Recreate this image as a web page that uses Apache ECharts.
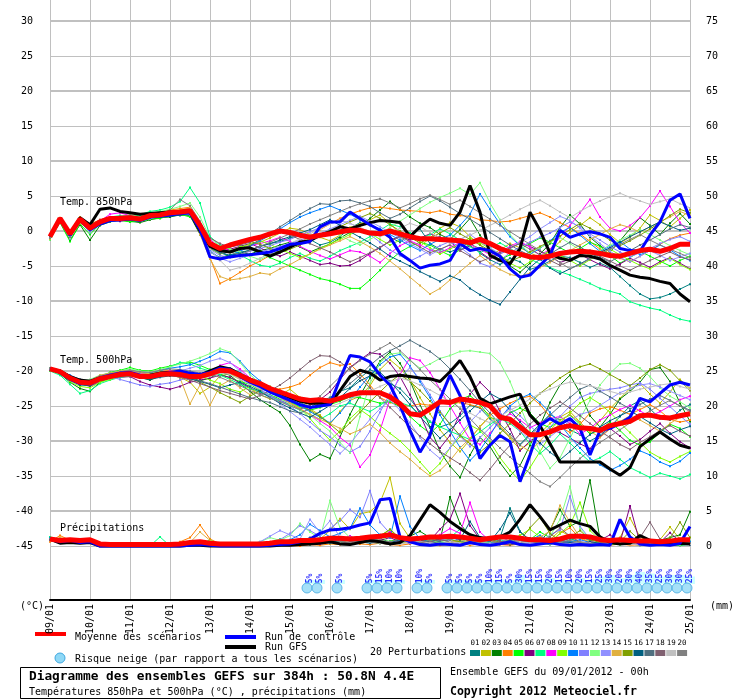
<!DOCTYPE html>
<html><head><meta charset="utf-8">
<script src="https://cdn.jsdelivr.net/npm/echarts/dist/echarts.min.js"></script>
<style>html,body{margin:0;padding:0;background:#fff}#c{width:740px;height:700px}</style>
</head><body><div id="c"></div><script>
const FONT = "'DejaVu Sans Mono', monospace";
const dayLabels = ['09/01','10/01','11/01','12/01','13/01','14/01','15/01','16/01','17/01','18/01','19/01','20/01','21/01','22/01','23/01','24/01','25/01'];
const stepHours = 6, nSteps = 65;
const hours = Array.from({length: nSteps}, (_, i) => String(i * stepHours));

// ---- mean / control / GFS ----
const meanT850 = [-0.8,1.8,-0.4,1.7, 0.4,1.3,1.8,1.8, 1.9,1.7,2.2,2.3, 2.6,2.7,2.9,0.8, -1.8,-2.5,-2.0,-1.6, -1.2,-0.9,-0.4,0.0, -0.2,-0.6,-0.9,-0.6, -0.4,-0.1,0.1,0.1, -0.3,-0.4,0.0,-0.4, -0.8,-1.1,-1.1,-1.2, -1.3,-1.4,-1.7,-1.2, -1.8,-2.5,-3.0,-3.3, -3.7,-3.8,-3.6,-3.2, -3.0,-2.9,-3.0,-3.2, -3.5,-3.6,-3.2,-2.8, -2.6,-2.9,-2.5,-1.9, -1.9];
const ctrlT850 = [-0.8,1.6,-0.6,1.5, 0.2,1.0,1.5,1.6, 1.7,1.5,2.0,2.1, 2.3,2.5,2.6,0.2, -3.7,-4.0,-3.7,-3.5, -3.4,-3.2,-3.0,-2.5, -1.9,-1.8,-1.5,0.6, 1.3,1.3,2.7,1.8, 0.9,0.1,-0.9,-3.2, -4.2,-5.3,-4.9,-4.7, -4.2,-1.8,-2.8,-2.5, -2.8,-3.6,-5.4,-6.6, -6.3,-4.9,-3.5,0.1, -0.9,-0.4,-0.1,-0.4, -0.9,-2.5,-2.8,-2.9, -0.6,1.3,4.4,5.3, 1.8];
const gfsT850 = [-0.8,1.8,-0.5,1.9, 0.9,3.1,3.3,2.8, 2.6,2.4,2.5,2.6, 2.7,2.8,2.6,0.0, -2.2,-2.8,-3.0,-2.5, -2.4,-3.0,-3.6,-3.0, -2.3,-1.6,-1.4,-0.6, -0.1,0.6,0.3,0.8, 1.2,1.5,1.4,1.2, -0.8,0.6,1.7,1.1, 0.8,2.7,6.5,2.7, -3.5,-4.2,-4.7,-2.5, 2.7,0.1,-3.2,-3.9, -4.2,-3.5,-3.6,-4.0, -4.9,-5.6,-6.3,-6.6, -6.8,-7.2,-7.5,-9.0, -10.1];
const meanT500 = [-19.7,-20.1,-21.0,-21.6, -21.7,-21.1,-20.8,-20.5, -20.4,-20.8,-20.8,-20.5, -20.4,-20.5,-20.8,-20.8, -20.4,-19.9,-20.0,-20.6, -21.3,-21.8,-22.5,-23.0, -23.5,-24.0,-24.2,-24.1, -24.3,-23.9,-23.4,-23.1, -23.1,-23.1,-23.7,-24.7, -26.1,-26.3,-25.4,-24.4, -24.5,-24.0,-24.2,-24.5, -25.0,-26.6,-26.9,-28.0, -29.1,-29.1,-28.7,-28.1, -27.8,-28.1,-28.2,-28.5, -27.8,-27.5,-27.2,-26.4, -26.3,-26.6,-26.7,-26.4, -26.1];
const ctrlT500 = [-19.7,-20.2,-21.2,-21.8, -21.8,-21.0,-20.6,-20.3, -20.2,-20.6,-20.9,-20.6, -20.2,-20.0,-20.3,-20.5, -20.2,-19.6,-19.8,-20.8, -21.6,-22.2,-23.0,-23.6, -24.2,-24.8,-25.2,-25.0, -24.8,-21.1,-17.8,-18.0, -18.7,-20.6,-22.0,-24.9, -28.5,-31.6,-29.2,-24.0, -20.6,-23.5,-27.8,-32.5, -30.6,-29.2,-30.1,-35.8, -32.0,-27.8,-26.8,-27.6, -26.8,-28.2,-32.0,-28.5, -28.2,-27.5,-26.6,-23.9, -24.4,-23.2,-22.0,-21.6, -22.0];
const gfsT500 = [-19.7,-20.0,-20.8,-21.3, -21.5,-21.0,-20.7,-20.4, -20.3,-20.7,-20.6,-20.3, -20.2,-20.3,-20.5,-20.6, -20.0,-19.4,-19.7,-20.5, -21.2,-21.9,-22.6,-23.2, -23.8,-24.3,-24.6,-24.6, -24.8,-22.8,-20.8,-19.9, -20.3,-21.3,-20.8,-20.6, -20.8,-21.0,-21.1,-21.5, -20.1,-18.5,-20.8,-23.9, -24.7,-24.2,-23.7,-23.3, -26.3,-27.8,-30.4,-33.0, -33.0,-33.0,-33.0,-33.0, -34.0,-34.9,-33.8,-30.8, -29.7,-28.7,-29.7,-30.6, -31.0];
const meanRR = [1.0,0.8,0.9,0.8, 0.9,0.3,0.2,0.2, 0.2,0.2,0.2,0.2, 0.2,0.3,0.5,0.6, 0.4,0.3,0.3,0.3, 0.3,0.3,0.4,0.6, 0.6,0.8,0.8,0.9, 1.1,1.1,1.0,1.1, 1.3,1.4,1.6,1.2, 1.0,1.1,1.3,1.3, 1.4,1.3,1.1,0.9, 1.1,1.3,1.3,1.1, 0.9,0.9,0.8,1.0, 1.4,1.4,1.3,0.9, 0.8,0.9,0.8,0.7, 0.7,0.6,0.7,0.9, 0.9];
const ctrlRR = [1.0,0.6,0.8,0.5, 0.6,0,0,0, 0,0,0,0, 0,0,0.1,0.2, 0.1,0,0,0, 0,0,0.1,0.2, 0.3,0.6,1.0,1.8, 2.3,2.4,2.6,3.0, 3.3,6.6,6.8,1.3, 0.6,0.2,0.1,0.3, 0.2,0.1,0.5,0.2, 0.1,0.3,0.6,0.2, 0.1,0.3,0.5,0.2, 0.1,0.2,0.1,0.2, 0.1,3.8,1.3,0.3, 0.1,0.2,0.1,0.4, 2.8];
const gfsRR = [1.0,0.4,0.5,0.4, 0.5,0,0,0, 0,0,0,0, 0,0,0.1,0.1, 0,0,0,0, 0,0,0,0.1, 0.1,0.2,0.3,0.4, 0.6,0.3,0.2,0.5, 0.8,0.6,0.3,0.5, 1.5,3.7,5.9,4.8, 3.5,2.5,1.6,1.2, 1.0,1.3,2.0,3.8, 5.9,4.2,2.3,3.0, 3.7,3.2,2.8,1.3, 0.5,0.3,0.4,1.5, 0.8,0.3,0.2,0.4, 0.3];

// ---- 20 perturbations ----
const p01_t850 = [-0.9,1.7,-0.6,1.4, 0.5,1.2,1.6,1.8, 1.5,1.9,2.1,2.0, 2.4,2.2,2.5,0.2, -2.5,-3.1,-3.6,-3.0, -2.8,-2.2,-1.8,-1.5, -1.0,-0.6,-1.2,-2.0, -1.6,-0.8,0.4,1.2, 0.8,0.2,-0.9,-1.6, -0.5,0.3,-1.8,-2.6, -3.0,-2.4,-1.5,-3.2, -4.1,-4.8,-3.9,-4.4, -5.5,-5.0,-4.3,-3.6, -3.8,-4.5,-5.2,-4.6, -5.2,-6.5,-7.8,-9.0, -9.7,-9.5,-9.0,-8.3, -7.6];
const p01_t500 = [-19.8,-20.1,-21.3,-21.9, -22.0,-21.2,-20.9,-20.6, -20.3,-20.7,-21.0,-20.6, -20.1,-20.6,-21.2,-21.0, -20.5,-19.5,-19.6,-20.2, -21.0,-21.5,-22.8,-23.2, -23.9,-24.5,-25.2,-24.3, -23.8,-22.9,-22.4,-21.0, -19.8,-20.5,-21.8,-22.5, -24.0,-25.8,-27.2,-28.0, -27.5,-26.4,-24.9,-25.3, -26.8,-28.2,-29.4,-30.5, -29.0,-27.6,-26.2,-27.0, -28.4,-29.1,-30.0,-29.2, -28.0,-26.5,-25.0,-24.2, -25.4,-26.8,-27.0,-25.6, -24.8];
const p01_rr = [0.9,0.7,0.8,0.6, 0.7,0.2,0,0, 0,0.1,0,0, 0,0.2,0.4,0.3, 0.1,0,0,0, 0,0.2,0.3,0.5, 0.4,0.2,0.8,1.2, 0.9,0.5,0.3,0.6, 1.0,0.7,0.4,0.8, 1.2,0.6,0.3,0.2, 0.5,0.9,1.4,0.6, 0.3,1.2,5.4,2.1, 0.8,0.4,0.2,0.6, 1.1,0.5,0.3,0.2, 0.4,0.8,0.3,0.1, 0.2,0.5,0.3,0.1, 0.2];
const p02_t850 = [-1.0,1.5,-0.8,1.6, 0.7,1.4,1.9,2.0, 2.2,1.8,2.0,2.4, 2.8,3.0,3.2,1.0, -1.5,-2.8,-3.0,-2.6, -2.0,-1.6,-1.0,-0.3, 0.4,0.2,-0.5,-0.9, -1.4,-0.6,0.5,1.0, 1.6,2.3,1.1,-0.4, -1.6,-2.2,-1.0,0.4, 1.2,0.6,-0.8,-2.0, -3.5,-2.7,-1.8,-2.4, -3.1,-3.8,-2.9,-1.5, -0.2,0.8,1.9,0.9, -0.5,-1.7,-0.9,0.4, 2.3,1.5,0.6,1.8, 3.0];
const p02_t500 = [-19.6,-20.2,-21.0,-21.5, -21.8,-21.4,-20.9,-20.5, -20.4,-20.5,-20.6,-20.3, -20.0,-20.9,-21.6,-23.2, -22.3,-20.7,-20.4,-21.2, -22.5,-23.4,-24.0,-23.5, -22.6,-23.8,-25.4,-26.3, -27.6,-25.8,-24.2,-23.6, -22.1,-19.8,-18.4,-19.6, -21.2,-23.8,-26.1,-28.4, -30.2,-31.5,-29.8,-27.9, -26.4,-28.0,-29.6,-31.2, -30.3,-28.9,-27.5,-26.6, -25.8,-27.3,-28.8,-27.1, -25.4,-23.9,-22.5,-21.8, -23.3,-24.6,-23.0,-21.2, -22.5];
const p02_rr = [0.8,0.9,0.7,0.8, 0.6,0.3,0.1,0, 0,0,0.1,0, 0.1,0.1,0.3,0.4, 0.2,0.1,0,0.1, 0.2,0.3,0.6,0.9, 0.4,0.2,0.3,1.0, 2.2,3.9,2.4,4.6, 4.9,6.2,9.8,3.2, 1.1,0.6,0.9,0.4, 0.3,0.7,1.2,0.5, 0.2,0.4,0.8,1.5, 0.6,0.3,0.9,2.2, 1.4,0.5,0.3,0.2, 0.6,1.2,4.0,1.3, 0.5,0.9,2.7,1.0, 0.6];
const p03_t850 = [-1.1,1.3,-1.3,0.9, -1.3,0.8,1.3,1.6, 1.4,1.2,1.6,1.9, 2.0,2.3,2.2,-0.5, -3.0,-3.8,-3.4,-3.1, -3.3,-2.8,-2.5,-2.0, -1.6,-2.3,-3.0,-2.4, -1.9,-1.0,-0.2,0.6, 1.8,3.0,4.2,3.1, 2.0,1.1,0.5,-0.5, -1.2,0.2,1.8,-0.6, -2.5,-3.8,-5.0,-5.9, -4.6,-3.3,-1.8,0.5, 2.3,1.0,-0.9,-2.1, -3.0,-1.4,0.3,1.9, 0.8,-0.5,1.1,2.5, 1.0];
const p03_t500 = [-19.8,-20.4,-21.6,-22.5, -22.9,-21.6,-21.0,-20.6, -20.5,-20.9,-21.3,-20.7, -20.4,-20.6,-20.9,-21.4, -21.0,-20.2,-20.6,-21.8, -22.9,-24.1,-25.0,-25.9, -27.8,-30.5,-32.8,-31.9, -32.5,-29.4,-26.2,-23.5, -21.0,-18.6,-17.3,-18.9, -21.4,-24.8,-28.0,-31.5, -33.6,-35.2,-32.0,-29.5, -30.8,-33.1,-35.0,-33.5, -30.6,-27.8,-24.5,-22.0, -20.6,-23.1,-26.4,-28.0, -26.2,-24.0,-22.9,-21.6, -19.8,-19.5,-21.5,-24.6, -27.2];
const p03_rr = [1.2,0.6,0.9,0.7, 0.8,0.1,0,0, 0,0,0,0, 0,0.1,0.2,0.3, 0.1,0,0,0, 0,0.1,0.2,0.4, 0.6,0.3,0.9,0.5, 0.7,1.3,0.8,0.4, 0.6,1.1,0.5,0.9, 1.4,2.1,1.2,0.8, 7.0,3.2,1.4,0.6, 0.9,0.5,0.3,0.7, 1.1,0.6,2.3,5.2, 2.8,3.6,9.4,1.0, 0.6,0.4,0.9,0.5, 0.3,0.8,1.2,1.6, 4.9];
const p04_t850 = [-0.7,1.9,-0.3,2.0, 1.0,1.6,1.9,2.1, 2.3,2.1,2.4,2.6, 3.0,3.2,3.4,0.5, -3.8,-7.5,-6.8,-5.9, -5.0,-4.3,-3.5,-2.9, -2.2,-1.6,-0.8,0.2, 1.0,1.8,2.4,2.9, 3.3,3.4,3.2,3.0, 2.9,2.8,2.6,2.9, 2.4,2.2,2.1,1.6, 1.5,1.3,1.4,1.8, 2.2,2.6,2.0,1.2, 0.5,-0.4,-1.5,-2.6, -3.2,-3.9,-4.4,-3.6, -2.8,-1.9,-1.1,-0.6, -0.3];
const p04_t500 = [-19.7,-19.9,-20.7,-21.4, -21.6,-21.0,-20.6,-20.2, -20.0,-20.3,-20.4,-20.1, -19.9,-20.1,-20.3,-20.5, -20.2,-19.8,-20.3,-21.0, -21.5,-21.9,-22.4,-22.6, -22.3,-21.8,-20.6,-19.5, -18.8,-19.2,-19.0,-20.4, -22.0,-23.8,-24.5,-24.9, -25.0,-24.7,-24.9,-24.6, -24.7,-24.5,-24.8,-25.2, -26.3,-25.4,-24.6,-23.9, -23.6,-24.8,-26.5,-27.9, -28.8,-27.6,-26.0,-25.4, -25.1,-25.6,-26.2,-25.5, -24.8,-25.7,-26.9,-27.3, -27.0];
const p04_rr = [0.6,1.5,0.8,0.7, 0.9,0.4,0.1,0, 0,0,0,0, 0.1,0.6,1.2,3.0, 1.0,0.3,0.1,0, 0,0,0.1,0.2, 0.1,0,0.2,0.1, 0.3,0.2,0.5,0.3, 0.2,0.4,0.2,0.1, 0.3,0.5,0.2,0.1, 0.2,0.4,0.1,0.3, 0.5,0.2,0.1,0.3, 0.6,1.0,0.4,1.8, 2.6,1.1,0.5,0.2, 0.1,0.3,0.1,0.2, 0.4,0.2,0.1,0.3, 0.2];
const p05_t850 = [-1.2,1.2,-1.5,1.0, -0.5,1.0,1.4,1.5, 1.3,1.4,1.7,1.8, 2.2,2.4,2.0,0.3, -1.8,-2.5,-2.2,-1.9, -2.6,-3.2,-3.8,-4.4, -5.0,-5.6,-6.2,-6.8, -7.1,-7.6,-8.2,-8.2, -7.0,-5.6,-4.2,-3.0, -2.2,-1.6,-2.0,-2.8, -3.5,-2.7,-1.9,-2.5, -3.2,-4.1,-3.4,-2.6, -1.8,-1.0,-1.6,-2.4, -3.1,-2.5,-1.6,-2.2, -3.5,-4.6,-3.8,-2.9, -3.6,-4.3,-5.0,-4.2, -3.6];
const p05_t500 = [-19.9,-20.3,-21.1,-21.7, -21.5,-20.8,-20.2,-19.9, -19.5,-19.9,-20.0,-19.6, -19.3,-18.9,-18.7,-19.2, -19.8,-20.4,-21.0,-21.5, -21.9,-22.8,-23.4,-24.0, -24.5,-25.1,-25.6,-25.2, -24.8,-24.3,-23.7,-23.8, -24.2,-24.6,-24.4,-25.1, -26.5,-27.8,-28.9,-27.6, -25.4,-24.1,-23.5,-24.8, -26.6,-27.2,-26.0,-25.3, -26.0,-27.5,-28.1,-27.0, -26.3,-27.6,-29.0,-28.4, -27.3,-28.5,-29.9,-30.6, -30.1,-28.8,-27.6,-28.2, -29.4];
const p05_rr = [1.1,0.8,0.9,0.6, 0.8,0.2,0,0, 0,0,0,0.1, 0,0.1,0.2,0.4, 0.8,0.3,0.1,0, 0,0,0.1,0.3, 0.2,0.4,0.3,0.6, 0.8,0.5,0.9,1.2, 0.6,0.4,0.7,1.0, 0.5,0.3,0.8,0.6, 0.4,0.9,0.5,0.3, 0.6,0.4,0.2,0.5, 0.9,2.0,1.2,0.5, 0.7,0.4,0.3,0.6, 0.3,0.2,0.5,0.3, 0.2,0.4,0.2,0.1, 0.3];
const p06_t850 = [-0.9,1.6,-0.7,1.3, 0.2,1.1,1.5,1.4, 1.6,1.8,1.9,2.1, 2.3,2.5,2.7,0.6, -1.9,-2.8,-2.6,-2.2, -1.8,-2.4,-3.1,-3.6, -3.0,-3.6,-4.2,-4.8, -4.6,-5.0,-4.9,-4.2, -3.2,-2.4,-1.4,-0.7, -1.3,-1.0,-0.4,-0.9, -1.5,-2.8,-2.1,-3.0, -4.0,-3.3,-2.5,-1.7, -2.2,-2.9,-3.6,-4.5, -4.0,-3.3,-4.1,-4.8, -5.4,-4.7,-3.9,-4.5, -5.2,-4.4,-3.8,-4.6, -5.4];
const p06_t500 = [-19.8,-20.2,-21.0,-21.8, -22.2,-21.5,-21.0,-20.9, -20.8,-21.5,-22.0,-22.3, -22.6,-22.2,-21.6,-21.3, -21.0,-20.6,-20.9,-21.7, -22.4,-23.1,-23.6,-24.2, -24.8,-25.4,-24.9,-24.1, -23.0,-21.2,-19.5,-18.4, -17.4,-17.6,-18.9,-20.8, -23.4,-26.2,-29.5,-31.0, -29.2,-26.1,-23.3,-21.6, -23.0,-25.8,-28.3,-31.4, -30.0,-29.1,-28.4,-28.8, -29.6,-30.4,-31.1,-29.4, -28.2,-29.3,-30.5,-29.8, -28.6,-27.5,-28.9,-30.1, -31.0];
const p06_rr = [1.0,0.7,0.8,0.9, 0.7,0.3,0,0, 0,0,0,0, 0,0,0.1,0.2, 0,0,0,0, 0,0.1,0.2,0.1, 0.3,0.5,0.2,0.4, 0.6,0.9,1.4,0.7, 0.5,0.8,1.2,0.6, 0.4,1.1,0.8,2.4, 3.8,7.5,2.9,1.0, 0.6,0.3,0.2,0.5, 0.4,0.8,0.6,0.3, 0.9,1.4,0.8,0.8, 1.6,0.5,5.7,0.4, 0.2,0.5,1.9,0.6, 0.3];
const p07_t850 = [-1.0,1.4,-0.9,1.8, 0.8,1.5,2.0,2.2, 2.0,2.3,2.8,3.0, 3.4,4.2,6.2,4.0, -0.8,-2.0,-2.6,-3.4, -4.2,-4.9,-5.1,-4.6, -3.8,-3.2,-3.9,-4.3, -3.6,-2.8,-2.2,-1.6, -0.8,0.1,1.0,0.6, -0.3,-1.1,-0.5,0.3, -0.4,-1.3,-2.2,-3.1, -2.4,-1.7,-2.5,-3.3, -4.0,-4.7,-5.2,-5.8, -6.3,-6.9,-7.5,-8.2, -8.6,-9.0,-10.1,-10.6, -11.0,-11.3,-12.0,-12.6, -12.9];
const p07_t500 = [-20.0,-20.6,-21.9,-23.2, -22.8,-21.8,-21.3,-20.9, -20.7,-20.8,-20.5,-20.0, -19.4,-18.8,-19.0,-19.6, -20.0,-20.6,-21.2,-21.9, -22.5,-23.0,-23.7,-24.3, -24.9,-25.6,-26.2,-26.9, -26.1,-25.0,-24.6,-25.2, -25.8,-24.9,-24.0,-24.5, -25.0,-26.2,-27.3,-28.0, -28.6,-29.2,-29.8,-28.7, -27.6,-26.8,-27.5,-28.6, -30.4,-31.8,-30.6,-29.0, -30.3,-31.7,-33.0,-32.4, -31.5,-32.6,-33.8,-34.5, -35.2,-34.6,-35.0,-35.4, -34.8];
const p07_rr = [1.3,0.9,0.7,0.8, 0.6,0.2,0,0, 0,0,0,1.3, 0,0.1,0.2,0.3, 0.1,0,0,0, 0.1,0.2,0.4,1.0, 0.6,0.3,0.2,0.5, 0.4,0.7,1.1,0.6, 0.5,0.8,0.6,0.4, 0.7,0.5,0.3,0.8, 1.2,2.4,1.5,0.6, 0.4,0.9,0.5,0.3, 0.6,0.4,0.9,0.5, 0.8,1.6,0.7,0.3, 0.5,0.4,0.8,0.6, 0.3,0.5,1.0,0.4, 0.6];
const p08_t850 = [-0.8,1.7,-0.5,1.6, 0.6,1.4,2.4,2.6, 2.2,2.0,2.3,2.5, 2.6,2.8,3.0,1.2, -1.2,-2.4,-2.8,-2.5, -2.1,-1.8,-1.4,-0.9, -1.5,-2.2,-2.9,-3.5, -4.0,-3.4,-2.8,-3.0, -3.6,-4.5,-3.2,-2.1, -1.4,-2.0,-2.7,-3.1, -2.4,-1.6,-1.9,-2.6, -3.4,-3.0,-2.2,-1.5, -2.3,-3.5,-2.6,-0.9, 0.8,2.6,4.5,2.0, 0.4,0.0,0.8,1.9, 3.6,5.7,3.5,1.2, -0.3];
const p08_t500 = [-19.7,-20.0,-20.9,-21.5, -21.6,-20.9,-20.5,-20.2, -20.1,-20.4,-20.5,-20.2, -20.0,-20.2,-20.6,-20.9, -20.4,-19.2,-18.8,-19.7, -21.0,-22.1,-23.0,-23.8, -24.6,-25.4,-26.3,-27.1, -28.0,-29.5,-30.6,-33.7, -32.0,-28.5,-24.0,-20.5, -18.1,-18.5,-20.2,-22.6, -25.0,-27.4,-29.8,-30.5, -28.9,-27.2,-26.1,-27.0, -28.1,-27.4,-26.8,-26.5, -27.5,-29.0,-28.2,-27.0, -26.3,-25.5,-24.9,-25.7, -26.5,-25.8,-25.0,-24.1, -23.6];
const p08_rr = [0.9,0.7,0.8,0.6, 0.7,0.3,0,0, 0,0,0,0, 0,0.1,0.2,0.2, 0.1,0,0,0, 0,0.1,0.2,0.3, 0.2,0.4,0.6,0.3, 0.5,0.9,1.4,0.8, 0.6,1.1,2.0,1.3, 0.8,0.6,1.2,1.6, 2.5,1.8,6.2,2.0, 0.7,0.4,0.3,0.6, 0.9,0.5,0.4,0.8, 0.5,0.3,0.6,1.0, 0.4,0.7,0.3,0.2, 0.5,0.3,0.8,0.4, 0.3];
const p09_t850 = [-1.1,1.5,-1.0,1.2, 0.0,1.2,1.6,1.7, 1.8,1.6,2.0,2.2, 2.5,2.6,2.4,0.0, -2.5,-3.3,-2.9,-2.3, -1.9,-1.4,-1.9,-2.6, -3.2,-3.8,-3.3,-2.5, -1.8,-1.2,-0.5,0.2, -0.3,-1.2,-2.0,-1.3, -0.6,-1.5,-2.4,-3.3, -2.6,-1.8,-1.0,-1.7, -2.5,-3.4,-4.6,-5.3, -4.4,-3.6,-2.8,-3.5, -4.2,-5.0,-4.1,-3.3, -2.6,-3.4,-4.2,-4.9, -5.4,-4.6,-3.9,-4.8, -5.5];
const p09_t500 = [-19.9,-20.3,-21.5,-22.2, -22.4,-21.6,-21.2,-20.7, -20.6,-20.9,-21.1,-20.8, -20.6,-20.4,-20.2,-20.7, -21.3,-21.8,-22.6,-23.0, -22.2,-21.6,-22.5,-23.6, -24.4,-25.3,-26.8,-28.4, -29.9,-28.6,-26.8,-25.5, -26.5,-27.8,-28.9,-30.0, -31.4,-33.0,-34.6,-33.2, -31.0,-29.4,-27.7,-28.5, -30.1,-32.4,-34.2,-35.7, -33.8,-31.5,-29.2,-27.4, -26.0,-24.6,-23.8,-24.7, -25.9,-27.4,-28.8,-30.2, -31.6,-32.4,-33.0,-32.2, -31.5];
const p09_rr = [1.0,0.8,0.7,0.9, 0.8,0.3,0,0, 0,0,0,0, 0,0,0.2,0.3, 0.1,0,0,0, 0,0.1,0.3,0.2, 0.4,0.6,0.8,0.5, 0.9,1.2,0.7,0.5, 0.8,1.5,2.3,1.0, 0.6,0.9,0.5,0.3, 0.7,0.4,0.8,1.3, 0.6,0.4,0.9,1.5, 2.4,1.3,0.6,1.8, 3.0,6.2,2.2,0.8, 0.5,0.3,0.6,0.9, 0.4,0.2,0.5,0.8, 0.4];
const p10_t850 = [-0.9,1.8,-0.6,1.7, 0.6,1.3,1.7,1.9, 2.1,1.8,2.2,2.4, 2.6,2.9,3.1,0.9, -2.8,-3.9,-3.5,-2.9, -2.2,-1.4,-0.6,0.3, 1.2,2.0,2.6,3.1, 3.6,3.0,2.4,1.6, 0.9,0.3,-0.5,-1.3, -2.1,-2.8,-1.9,-1.2, -0.6,0.8,2.4,5.3, 3.1,1.0,-0.8,-2.1, -3.3,-2.5,-1.4,-0.2, 0.5,-0.6,-1.8,-2.9, -2.2,-1.5,-2.6,-3.4, -2.8,-2.0,-2.7,-3.6, -4.2];
const p10_t500 = [-19.6,-19.9,-20.6,-21.2, -21.4,-20.7,-20.3,-20.0, -19.8,-20.2,-20.3,-19.9, -19.6,-19.4,-19.1,-18.6, -18.0,-17.2,-17.4,-18.6, -20.2,-21.4,-22.6,-23.5, -24.3,-25.0,-25.8,-26.6, -27.4,-26.0,-24.2,-22.3, -20.6,-19.1,-18.0,-17.6, -19.3,-21.5,-23.8,-26.3, -28.6,-30.9,-32.8,-31.3, -29.2,-26.8,-25.0,-23.9, -23.3,-24.5,-25.9,-27.6, -29.4,-31.0,-32.5,-33.4, -34.2,-33.5,-32.6,-31.4, -32.0,-33.0,-33.6,-32.9, -31.7];
const p10_rr = [1.1,0.6,0.9,0.7, 0.8,0.2,0,0, 0,0,0,0, 0,0,0.1,0.2, 0.1,0,0,0, 0,0.1,0.2,0.5, 0.9,1.6,3.1,2.2, 1.3,1.8,2.5,5.4, 3.0,1.6,1.2,7.1, 2.8,1.0,0.6,0.9, 1.4,0.7,0.5,1.0, 0.6,0.3,0.8,0.5, 0.9,1.5,0.7,0.4, 0.6,0.9,0.5,0.3, 0.8,0.5,0.3,0.6, 0.4,0.8,0.5,0.3, 0.6];
const p11_t850 = [-1.0,1.6,-0.8,1.5, 0.4,1.4,1.8,2.0, 1.9,1.7,2.0,2.3, 2.5,2.7,2.8,0.4, -2.6,-3.5,-3.8,-3.4, -2.9,-2.5,-2.1,-1.6, -1.2,-0.6,-0.1,0.5, 1.0,1.5,1.1,0.4, -0.5,-1.6,-2.7,-3.5, -4.3,-3.6,-2.8,-2.1, -1.5,-2.3,-3.4,-4.6, -5.1,-4.2,-3.1,-2.3, -1.6,-0.9,-0.3,0.5, 1.3,0.6,-0.4,-1.3, -2.2,-3.0,-3.7,-3.1, -2.5,-1.8,-1.2,-0.8, -1.5];
const p11_t500 = [-19.7,-20.1,-21.1,-21.6, -21.5,-20.9,-20.8,-21.2, -21.6,-22.0,-22.2,-21.9, -21.7,-21.3,-20.9,-20.4, -19.9,-19.5,-19.9,-20.8, -21.6,-22.7,-23.5,-24.2, -25.0,-26.1,-27.3,-28.5, -29.4,-30.6,-31.6,-30.8, -28.6,-25.9,-23.2,-21.0, -19.5,-21.2,-23.4,-25.7, -27.6,-29.3,-30.8,-29.5, -28.1,-26.6,-25.3,-26.4, -27.8,-29.2,-28.0,-26.5, -25.0,-23.8,-23.2,-22.9, -22.6,-22.4,-22.0,-21.7, -22.6,-23.9,-25.1,-26.4, -27.6];
const p11_rr = [0.9,0.7,0.8,0.8, 0.7,0.3,0,0.1, 0,0,0,0, 0,0,0.2,0.2, 0,0,0,0, 0.1,0.3,0.5,0.9, 1.8,2.9,2.2,1.4, 2.5,3.6,5.2,4.1, 7.9,3.4,1.8,0.9, 0.4,0.8,0.5,0.3, 0.6,0.9,0.4,0.7, 1.0,0.5,0.3,0.6, 0.8,0.4,1.6,2.3, 7.1,2.8,1.0,0.5, 0.3,0.6,0.4,0.2, 0.5,0.3,0.6,0.4, 0.2];
const p12_t850 = [-0.9,1.5,-0.7,1.6, 0.7,1.5,1.9,2.1, 2.3,2.0,2.5,2.8, 3.1,3.5,4.0,2.0, -1.0,-2.2,-2.6,-3.0, -3.6,-4.1,-3.4,-2.8, -2.2,-1.7,-1.1,-0.5, 0.2,-0.6,-1.4,-2.0, -1.2,-0.4,0.5,1.4, 2.3,3.2,4.1,4.8, 5.4,6.1,5.2,6.9, 4.0,1.6,-0.5,-2.0, -3.1,-2.4,-1.6,-0.9, -1.8,-2.7,-3.5,-2.8, -2.0,-1.3,-0.6,0.2, -0.5,-1.3,-2.1,-2.8, -3.4];
const p12_t500 = [-19.6,-20.0,-20.8,-21.3, -21.2,-20.6,-20.3,-20.0, -19.7,-20.0,-20.1,-19.8, -19.4,-19.0,-18.6,-18.1, -17.5,-16.8,-17.3,-18.8, -20.5,-21.8,-22.9,-23.9, -24.8,-25.6,-26.3,-27.5, -28.6,-30.2,-31.7,-26.5, -21.8,-18.8,-17.6,-17.4, -18.5,-19.6,-19.0,-18.2, -17.8,-17.2,-17.1,-17.3, -17.5,-18.8,-21.5,-25.0, -28.5,-31.5,-33.9,-32.4, -29.6,-26.8,-24.2,-22.0, -20.3,-19.0,-18.9,-19.6, -20.8,-22.4,-23.6,-24.4, -25.3];
const p12_rr = [1.0,0.8,0.9,0.7, 0.8,0.3,0,0, 0,0.1,0,0, 0,0.1,0.4,0.6, 0.2,0.1,0.2,0.4, 0.3,0.6,1.2,0.8, 1.5,3.2,2.0,1.1, 6.5,2.6,1.2,0.7, 0.9,1.4,0.6,0.4, 0.7,1.1,0.8,0.5, 0.6,0.3,0.9,1.2, 0.7,0.4,0.8,1.1, 0.6,0.3,1.4,3.8, 8.5,2.5,1.0,0.6, 0.8,0.5,0.3,0.7, 0.4,0.6,0.9,0.5, 0.3];
const p13_t850 = [-1.0,1.4,-1.1,1.3, -0.2,1.0,1.4,1.6, 1.7,1.5,1.8,2.1, 2.2,2.4,2.3,-0.2, -3.0,-3.9,-4.4,-3.9, -3.4,-3.0,-2.6,-2.2, -1.8,-1.3,-0.9,-0.4, 0.3,0.9,1.5,2.1, 1.4,0.6,-0.2,-1.0, -1.8,-2.6,-3.4,-2.7, -1.9,-1.2,-0.5,-1.5, -2.4,-3.3,-2.5,-1.6, -0.8,0.3,1.2,2.1, 1.5,0.4,-0.7,-1.8, -2.9,-3.8,-4.4,-3.6, -2.8,-3.5,-4.2,-3.7, -3.2];
const p13_t500 = [-19.8,-20.2,-21.2,-22.0, -21.8,-21.1,-20.7,-20.4, -20.2,-20.5,-20.8,-20.6, -20.3,-20.0,-19.6,-19.2, -18.6,-18.2,-18.8,-20.0, -21.3,-22.5,-23.6,-24.7, -25.8,-26.9,-28.0,-29.3, -30.5,-31.8,-30.4,-28.6, -26.9,-25.4,-24.2,-25.6, -27.4,-29.5,-31.3,-32.5, -31.0,-29.0,-27.3,-25.8, -24.6,-25.9,-27.2,-28.6, -29.8,-30.5,-29.4,-28.3, -27.1,-26.2,-25.8,-24.9, -24.0,-23.1,-22.5,-22.0, -21.8,-22.3,-22.9,-23.5, -24.1];
const p13_rr = [0.8,0.9,0.7,0.8, 0.9,0.2,0,0, 0,0,0,0, 0,0,0.1,0.2, 0,0,0,0.1, 0.2,0.6,1.4,2.2, 1.6,1.0,3.8,1.9, 3.6,1.2,0.6,0.9, 1.3,0.7,0.4,0.8, 0.5,0.3,0.6,1.0, 0.7,0.4,0.3,0.6, 0.9,0.5,1.2,0.6, 0.4,0.8,1.1,0.5, 0.3,0.6,0.4,0.2, 0.5,0.3,0.6,0.4, 0.2,0.4,0.3,0.5, 0.3];
const p14_t850 = [-1.1,1.3,-0.9,1.1, 0.3,1.3,1.7,1.8, 2.0,1.9,2.3,2.5, 2.8,3.0,3.3,-0.5, -4.0,-6.5,-7.0,-6.8, -6.5,-6.0,-6.2,-5.4, -4.8,-4.0,-3.3,-2.6, -2.0,-1.4,-0.8,-1.5, -2.3,-3.2,-4.3,-5.4, -6.6,-7.8,-9.0,-8.2, -7.0,-5.8,-4.6,-3.5, -4.6,-5.5,-6.2,-6.5, -6.0,-5.2,-4.5,-3.6, -2.8,-2.0,-1.2,-0.5, 0.3,0.9,0.5,-0.2, 0.6,1.3,2.0,2.8, 2.2];
const p14_t500 = [-19.7,-20.1,-21.0,-21.6, -21.4,-20.6,-20.3,-20.0, -19.9,-20.2,-20.4,-20.1, -20.4,-21.0,-24.7,-22.0, -24.9,-22.1,-21.3,-22.4, -23.4,-22.1,-22.5,-23.6, -24.6,-25.4,-26.2,-26.9, -27.5,-28.2,-29.0,-28.4, -27.6,-28.8,-30.3,-31.5, -32.6,-33.9,-35.0,-34.2, -32.8,-31.0,-29.6,-28.0, -26.5,-27.8,-29.4,-30.6, -31.5,-30.0,-28.4,-27.1, -26.2,-27.4,-28.6,-29.5, -28.3,-27.2,-26.4,-27.0, -27.8,-28.6,-27.5,-26.6, -26.0];
const p14_rr = [0.7,1.2,0.9,0.8, 0.7,0.2,0,0, 0,0,0,0, 0.1,0.2,0.5,2.0, 0.8,0.3,0.1,0, 0,0.1,0.2,0.3, 0.5,0.4,0.8,0.6, 1.0,0.7,0.5,0.9, 1.4,0.8,0.5,0.3, 0.6,0.9,0.4,0.3, 0.5,0.8,0.6,1.1, 0.7,0.4,0.3,0.6, 0.9,1.3,2.1,5.8, 3.4,1.2,0.6,0.4, 0.3,0.5,0.2,0.4, 0.6,0.3,0.2,0.5, 0.3];
const p15_t850 = [-0.8,1.7,-0.4,1.8, 0.9,1.5,1.8,1.7, 1.6,1.8,2.1,2.2, 2.4,2.6,2.9,1.0, -1.6,-2.4,-2.1,-1.8, -1.5,-1.9,-2.5,-3.1, -2.6,-2.0,-1.3,-0.7, -0.1,0.6,1.3,1.9, 2.5,1.8,0.9,0.0, -0.9,-1.7,-1.0,-0.3, 0.5,-0.4,-1.2,-2.0, -2.8,-3.6,-4.4,-3.7, -3.0,-2.2,-1.5,-0.7, 0.2,1.1,0.4,-0.4, -1.3,-2.1,-1.4,-0.6, 0.3,1.2,2.2,3.1, 2.6];
const p15_t500 = [-19.7,-20.0,-20.8,-21.4, -21.5,-21.0,-20.6,-20.4, -20.3,-20.6,-20.7,-20.4, -20.1,-20.4,-21.0,-21.6, -22.3,-23.1,-23.8,-24.5, -23.6,-22.8,-22.2,-23.0, -23.9,-24.8,-25.6,-26.5, -27.6,-28.8,-27.4,-25.9, -24.4,-23.0,-21.6,-20.5, -21.5,-22.8,-24.3,-25.9, -27.6,-29.2,-30.4,-31.6, -30.4,-28.9,-27.5,-26.0, -24.6,-23.2,-22.1,-21.0, -20.1,-19.4,-19.0,-19.7, -20.5,-21.3,-22.1,-21.0, -19.8,-19.1,-19.9,-21.4, -22.8];
const p15_rr = [1.0,0.8,0.6,0.9, 0.8,0.2,0,0, 0,0,0,0, 0,0.1,0.3,0.4, 0.1,0,0,0, 0,0.2,0.3,0.5, 0.4,0.7,0.9,0.5, 0.8,1.3,0.8,0.6, 0.9,1.4,2.4,1.1, 0.6,0.4,0.8,1.2, 0.9,0.6,0.4,0.7, 1.0,0.5,0.3,0.8, 2.6,4.1,1.8,0.7, 1.3,2.2,0.9,0.5, 0.4,0.6,2.1,0.8, 0.4,0.6,1.1,3.4, 1.2];
const p16_t850 = [-1.0,1.5,-0.8,1.4, 0.1,1.1,1.5,1.7, 1.8,1.6,1.9,2.0, 2.1,2.3,2.5,0.6, -2.2,-3.0,-3.5,-3.2, -2.7,-2.2,-1.8,-1.3, -0.8,-0.3,0.2,0.9, 1.6,0.8,-0.1,-0.9, -1.7,-2.6,-3.6,-4.3, -5.0,-5.8,-6.5,-7.2, -6.4,-7.0,-8.2,-9.1, -9.9,-10.5,-8.7,-6.9, -5.2,-4.0,-5.3,-6.1, -5.4,-4.7,-3.9,-3.1, -2.4,-1.6,-0.8,-0.1, 0.6,1.3,0.7,0.1, 0.4];
const p16_t500 = [-19.8,-20.3,-21.3,-22.0, -22.1,-21.3,-20.9,-20.6, -20.6,-21.0,-21.2,-20.9, -20.7,-20.8,-21.1,-21.5, -21.9,-22.4,-22.0,-21.6, -22.2,-22.9,-23.8,-24.6, -25.3,-26.0,-26.6,-25.8, -24.9,-23.8,-22.5,-21.4, -20.7,-20.2,-21.5,-23.1, -24.8,-26.5,-28.1,-29.6, -28.4,-27.0,-25.7,-24.4, -23.2,-24.0,-25.6,-27.3, -28.9,-30.3,-31.6,-32.7, -31.5,-30.2,-29.1,-28.0, -27.1,-26.4,-25.7,-26.5, -27.4,-28.3,-29.0,-28.4, -27.9];
const p16_rr = [0.9,0.7,0.8,0.7, 0.7,0.2,0,0, 0,0,0,0, 0,0,0.1,0.2, 0,0,0,0, 0,0.1,0.2,0.3, 0.2,0.4,0.3,0.6, 0.5,0.8,1.0,0.6, 0.4,0.7,0.5,0.9, 1.2,0.8,0.6,1.0, 1.4,0.9,3.5,1.2, 0.6,2.4,4.7,2.0, 0.8,0.5,0.4,0.7, 0.5,0.3,0.6,0.4, 0.3,0.5,0.8,0.4, 0.3,0.5,0.7,0.4, 0.2];
const p17_t850 = [-0.9,1.6,-0.6,1.5, 0.3,1.2,1.6,1.8, 1.7,1.5,1.9,2.2, 2.4,2.6,2.7,0.3, -2.4,-3.2,-3.0,-2.6, -2.1,-1.2,-0.4,0.6, 1.5,2.4,3.2,3.9, 3.8,4.3,4.4,4.0, 3.5,2.6,1.8,2.4, 3.3,4.2,5.0,4.3, 3.4,2.5,1.7,0.8, -0.2,-1.1,-2.0,-2.8, -3.5,-4.1,-3.3,-2.4, -1.6,-2.3,-3.1,-3.8, -4.4,-3.6,-2.8,-2.0, -1.3,-0.5,0.3,0.9, 0.5];
const p17_t500 = [-19.7,-20.1,-20.9,-21.5, -21.6,-21.2,-20.9,-20.7, -20.5,-20.6,-20.9,-20.8, -20.5,-20.7,-21.0,-21.4, -21.8,-22.3,-22.8,-23.3, -23.8,-24.2,-24.5,-25.1, -25.7,-26.0,-25.4,-24.6, -23.9,-23.0,-21.8,-20.6, -19.2,-18.0,-17.1,-16.4, -15.6,-16.4,-17.2,-18.3, -19.7,-21.2,-22.8,-24.5, -26.0,-27.6,-29.0,-30.6, -29.2,-27.8,-26.3,-25.0, -23.8,-22.6,-22.0,-22.9, -23.7,-24.6,-25.4,-24.8, -24.0,-23.5,-24.2,-25.0, -25.6];
const p17_rr = [1.0,0.9,0.8,0.7, 0.6,0.2,0,0, 0,0,0,0, 0,0,0.1,0.3, 0.1,0,0,0, 0,0.1,0.3,0.5, 0.4,0.7,1.2,0.9, 0.5,0.3,0.6,0.8, 0.5,0.4,0.2,0.6, 0.8,0.5,0.3,0.7, 0.9,1.4,0.6,0.4, 0.3,0.6,0.8,0.5, 0.7,0.4,0.9,0.6, 0.3,0.5,0.4,0.2, 0.4,0.6,0.3,0.5, 0.2,0.4,0.3,0.2, 0.3];
const p18_t850 = [-0.8,1.7,-0.5,1.7, 0.8,1.6,2.0,2.1, 2.2,1.9,2.3,2.5, 2.7,2.9,3.0,1.2, -1.0,-1.8,-2.3,-2.0, -1.6,-1.1,-0.6,-0.1, -0.6,-1.2,-1.8,-2.4, -3.0,-3.7,-4.4,-3.8, -3.1,-2.3,-1.5,-0.8, -1.5,-2.3,-3.1,-2.6, -2.0,-2.8,-3.6,-4.4, -3.8,-3.1,-2.4,-1.8, -2.6,-3.4,-4.2,-4.9, -4.3,-3.5,-2.8,-3.6, -4.3,-5.0,-5.6,-4.9, -4.2,-3.6,-3.0,-3.7, -4.1];
const p18_t500 = [-19.8,-20.1,-21.1,-21.8, -21.9,-21.3,-21.0,-20.8, -20.6,-20.8,-20.9,-20.7, -20.6,-20.9,-21.3,-21.8, -22.3,-22.8,-23.2,-23.6, -24.0,-23.5,-22.8,-22.0, -21.0,-19.8,-18.6,-17.8, -17.9,-18.7,-19.8,-21.0, -22.4,-23.8,-25.2,-26.6, -28.0,-29.3,-30.4,-31.5, -32.4,-33.3,-34.5,-35.6, -34.0,-32.2,-30.6,-29.0, -27.6,-26.3,-25.3,-24.4, -25.3,-26.4,-27.5,-28.6, -29.5,-30.5,-31.2,-30.2, -29.4,-28.5,-27.8,-28.6, -29.3];
const p18_rr = [0.9,0.8,0.7,0.8, 0.7,0.3,0,0, 0,0,0,0, 0,0,0.1,0.2, 0,0,0,0, 0,0.1,0.2,0.4, 0.3,0.5,0.4,0.7, 1.0,0.6,0.4,0.8, 1.1,0.6,0.3,0.5, 0.8,0.4,0.6,0.9, 0.6,0.3,0.5,0.8, 1.2,0.7,0.4,0.6, 0.9,0.5,1.3,2.6, 1.4,0.6,0.4,0.3, 0.5,0.3,0.6,1.2, 3.4,1.0,0.5,0.3, 0.4];
const p19_t850 = [-0.9,1.6,-0.7,1.5, 0.5,1.3,1.7,1.9, 2.0,1.8,2.1,2.3, 2.5,2.7,2.8,0.5, -2.6,-4.2,-5.6,-5.2, -4.6,-3.9,-3.2,-2.5, -1.8,-1.1,-0.4,0.3, 1.0,1.6,1.1,0.5, -0.1,-0.8,-0.3,0.4, 1.1,0.6,-0.2,-1.0, -1.8,-1.2,-0.6,0.1, 0.8,1.5,2.3,3.1, 3.8,4.4,3.6,2.7, 1.9,2.8,3.6,4.3, 4.9,5.4,4.8,4.3, 3.8,4.2,4.6,3.9, 3.3];
const p19_t500 = [-19.7,-20.0,-20.9,-21.5, -21.7,-21.1,-20.8,-20.5, -20.4,-20.7,-20.8,-20.5, -20.3,-20.5,-20.8,-21.0, -20.8,-20.3,-20.5,-21.2, -21.9,-22.5,-23.0,-23.4, -23.8,-24.1,-24.4,-24.8, -25.1,-24.6,-24.0,-23.5, -22.9,-22.2,-21.6,-21.0, -21.4,-22.0,-22.7,-23.5, -24.4,-25.2,-26.0,-26.8, -27.4,-26.5,-25.6,-24.9, -24.0,-23.2,-22.6,-22.0, -21.6,-21.8,-22.1,-22.5, -22.9,-23.3,-23.0,-22.6, -22.3,-22.0,-21.8,-22.2, -22.6];
const p19_rr = [0.9,0.8,0.8,0.7, 0.8,0.3,0,0, 0,0,0,0, 0,0,0.1,0.2, 0,0,0,0, 0,0.1,0.2,0.2, 0.3,0.4,0.3,0.5, 0.6,0.4,0.3,0.5, 0.7,0.4,0.6,0.3, 0.5,0.7,0.4,0.3, 0.6,0.4,0.3,0.5, 0.4,0.3,0.5,0.6, 0.4,0.3,0.5,0.4, 0.3,0.5,0.4,0.2, 0.3,0.4,0.2,0.3, 0.2,0.3,0.4,0.2, 0.3];
const p20_t850 = [-1.0,1.5,-0.8,1.6, 0.4,1.2,1.6,1.8, 1.9,1.7,2.0,2.2, 3.0,4.5,3.6,1.4, -1.5,-2.5,-3.0,-3.4, -2.8,-2.2,-1.6,-1.0, -0.4,0.3,1.0,1.6, 2.2,2.8,3.4,3.9, 4.3,4.6,4.0,3.3, 3.9,4.6,5.1,4.5, 3.8,4.4,3.5,2.6, 1.7,0.8,-0.1,-1.0, -1.9,-2.8,-3.6,-4.5, -5.4,-4.8,-4.0,-3.3, -2.6,-1.9,-1.2,-0.5, -1.3,-2.0,-2.6,-3.2, -3.8];
const p20_t500 = [-19.6,-20.0,-20.8,-21.2, -21.3,-20.7,-20.4,-20.1, -19.9,-20.1,-20.2,-19.9, -19.7,-19.8,-20.0,-20.3, -20.5,-20.9,-21.5,-22.1, -22.8,-23.4,-23.9,-24.4, -25.0,-25.5,-24.8,-23.6, -22.2,-20.8,-19.6,-18.5, -17.6,-16.8,-16.0,-17.1, -18.4,-19.8,-21.3,-22.6, -24.0,-25.4,-26.8,-28.3, -29.6,-31.0,-32.3,-33.5, -34.6,-35.8,-36.5,-35.2, -33.8,-32.5,-31.3,-30.2, -29.3,-28.4,-27.4,-26.6, -25.7,-24.9,-24.2,-25.0, -25.8];
const p20_rr = [1.0,0.7,1.0,0.9, 0.8,0.3,0,0, 0,0,0,0, 0,0,0.1,0.2, 0,0,0,0, 0,0.1,0.2,0.3, 0.4,0.6,0.5,0.8, 1.1,0.7,0.5,0.9, 1.2,0.8,0.6,1.0, 0.7,0.5,0.8,1.3, 0.9,1.2,0.7,0.5, 0.8,0.4,0.6,1.0, 0.7,0.5,0.3,0.6, 0.8,0.5,0.3,0.4, 0.6,0.3,0.5,0.7, 0.4,0.3,0.5,0.6, 0.4];

// ---- snow risk (step index, % of scenarios) ----
const snowSteps = [26,27,29,32,33,34,35,37,38,40,41,42,43,44,45,46,47,48,49,50,51,52,53,54,55,56,57,58,59,60,61,62,63,64];
const snowPct   = [5,5,5,5,15,10,10,10,5,5,5,5,5,10,15,5,30,15,15,20,15,10,20,15,25,30,20,30,40,35,25,30,30,25];

const pertNames = ['01','02','03','04','05','06','07','08','09','10','11','12','13','14','15','16','17','18','19','20'];
const pertColors = ['#008080','#c0c000','#008000','#ff8000','#00ff00','#800080','#00ff80','#ff00ff','#80ff00','#0080ff','#8080ff','#80ff80','#9090ff','#e0b040','#80a000','#006080','#507080','#806070','#c0c0c0','#808080'];
const pertT850 = [p01_t850,p02_t850,p03_t850,p04_t850,p05_t850,p06_t850,p07_t850,p08_t850,p09_t850,p10_t850,p11_t850,p12_t850,p13_t850,p14_t850,p15_t850,p16_t850,p17_t850,p18_t850,p19_t850,p20_t850];
const pertT500 = [p01_t500,p02_t500,p03_t500,p04_t500,p05_t500,p06_t500,p07_t500,p08_t500,p09_t500,p10_t500,p11_t500,p12_t500,p13_t500,p14_t500,p15_t500,p16_t500,p17_t500,p18_t500,p19_t500,p20_t500];
const pertRR = [p01_rr,p02_rr,p03_rr,p04_rr,p05_rr,p06_rr,p07_rr,p08_rr,p09_rr,p10_rr,p11_rr,p12_rr,p13_rr,p14_rr,p15_rr,p16_rr,p17_rr,p18_rr,p19_rr,p20_rr];

// ---------- build ----------
const GRID_L = 50, GRID_R = 50;
function ln(data, yIdx, color, width, z, sym) {
  return {type:'line', xAxisIndex:0, yAxisIndex:yIdx, data, silent:true, animation:false,
    symbol: sym ? 'rect' : 'none', showSymbol: !!sym, symbolSize: 2,
    itemStyle:{color}, lineStyle:{color, width}, z};
}
const series = [];
for (let k = 0; k < 20; k++) {
  series.push(ln(pertT850[k], 0, pertColors[k], 1, 2, true));
  series.push(ln(pertT500[k], 0, pertColors[k], 1, 2, true));
  series.push(ln(pertRR[k], 1, pertColors[k], 1, 2, true));
}
series.push(ln(gfsT850, 0, '#000', 3, 3), ln(gfsT500, 0, '#000', 3, 3), ln(gfsRR, 1, '#000', 3, 3));
series.push(ln(ctrlT850, 0, '#0000ff', 3, 4), ln(ctrlT500, 0, '#0000ff', 3, 4), ln(ctrlRR, 1, '#0000ff', 3, 4));
series.push(ln(meanT850, 0, '#ff0000', 5, 5), ln(meanT500, 0, '#ff0000', 5, 5), ln(meanRR, 1, '#ff0000', 5, 5));

// snow band (cyan bars), icons and % labels
const snowBand = hours.map(() => '-');
snowSteps.forEach((s, k) => { snowBand[s] = snowPct[k]; });
series.push({type:'bar', xAxisIndex:0, yAxisIndex:2, data:snowBand, barWidth:10, barMinHeight:4,
  itemStyle:{color:'#ccffff'}, silent:true, animation:false, z:1});
const SNOW_ICON_Y = -51.0, SNOW_TXT_Y = -49.9;
series.push({type:'scatter', xAxisIndex:0, yAxisIndex:0, silent:true, animation:false, z:6,
  data: snowSteps.map(s => [s, SNOW_ICON_Y]), symbol:'circle', symbolSize:10, symbolOffset:[-3,0],
  itemStyle:{color:'#8fd8f6', borderColor:'#40a8e0', borderWidth:1}});
series.push({type:'scatter', xAxisIndex:0, yAxisIndex:0, silent:true, animation:false, z:6,
  data: snowSteps.map((s, k) => [s, SNOW_TXT_Y, snowPct[k]]), symbolSize:0,
  label:{show:true, position:'inside', rotate:90, align:'left', verticalAlign:'middle', offset:[-3,0],
    formatter: p => p.value[2] + '%', color:'#0000ff', fontFamily:FONT, fontSize:8, fontWeight:'bold'}});

// legend graphics
const graphic = [
  {type:'text', x:60, y:202, style:{text:'Temp. 850hPa', font:`10px ${FONT}`, fill:'#000', verticalAlign:'middle'}, z:10},
  {type:'text', x:60, y:360, style:{text:'Temp. 500hPa', font:`10px ${FONT}`, fill:'#000', verticalAlign:'middle'}, z:10},
  {type:'text', x:60, y:528, style:{text:'Précipitations', font:`10px ${FONT}`, fill:'#000', verticalAlign:'middle'}, z:10},
  {type:'text', x:20, y:606, style:{text:'(°C)', font:`10px ${FONT}`, fill:'#000', verticalAlign:'middle'}},
  {type:'text', x:710, y:606, style:{text:'(mm)', font:`10px ${FONT}`, fill:'#000', verticalAlign:'middle'}},
  {type:'rect', shape:{x:35, y:632, width:31, height:4}, style:{fill:'#ff0000'}},
  {type:'text', x:75, y:637, style:{text:'Moyenne des scénarios', font:`10px ${FONT}`, fill:'#000', verticalAlign:'middle'}},
  {type:'rect', shape:{x:225, y:635, width:31, height:4}, style:{fill:'#0000ff'}},
  {type:'text', x:265, y:637, style:{text:'Run de contrôle', font:`10px ${FONT}`, fill:'#000', verticalAlign:'middle'}},
  {type:'rect', shape:{x:225, y:645, width:31, height:4}, style:{fill:'#000'}},
  {type:'text', x:265, y:647, style:{text:'Run GFS', font:`10px ${FONT}`, fill:'#000', verticalAlign:'middle'}},
  {type:'circle', shape:{cx:60, cy:658, r:5}, style:{fill:'#8fd8f6', stroke:'#40a8e0', lineWidth:1}},
  {type:'text', x:75, y:659, style:{text:'Risque neige (par rapport a tous les scénarios)', font:`10px ${FONT}`, fill:'#000', verticalAlign:'middle'}},
  {type:'rect', shape:{x:20.5, y:667.5, width:420, height:31}, style:{fill:'none', stroke:'#000', lineWidth:1}},
  {type:'text', x:29, y:677, style:{text:'Diagramme des ensembles GEFS sur 384h : 50.8N 4.4E', font:`bold 12.8px ${FONT}`, fill:'#000', verticalAlign:'middle'}},
  {type:'text', x:29, y:692, style:{text:'Températures 850hPa et 500hPa (°C) , précipitations (mm)', font:`10px ${FONT}`, fill:'#000', verticalAlign:'middle'}},
  {type:'text', x:370, y:652, style:{text:'20 Perturbations', font:`10px ${FONT}`, fill:'#000', verticalAlign:'middle'}},
  {type:'text', x:450, y:672, style:{text:'Ensemble GEFS du 09/01/2012 - 00h', font:`10px ${FONT}`, fill:'#000', verticalAlign:'middle'}},
  {type:'text', x:450, y:692, style:{text:'Copyright 2012 Meteociel.fr', font:`bold 11.5px ${FONT}`, fill:'#000', verticalAlign:'middle'}}
];
pertColors.forEach((c, k) => {
  const x = 470 + k * 10.9;
  graphic.push({type:'rect', shape:{x:x, y:650, width:10, height:6}, style:{fill:c}});
  graphic.push({type:'text', x:x + 5, y:643, style:{text:pertNames[k], font:`7.5px ${FONT}`, fill:'#000', align:'center', verticalAlign:'middle'}});
});

const option = {
  backgroundColor:'#fff',
  animation:false,
  grid:[
    {left:GRID_L, right:GRID_R, top:0, height:600},
    {left:GRID_L, right:GRID_R, top:21, height:525},
    {left:GRID_L, right:GRID_R, top:21, height:490}
  ],
  xAxis:[
    {type:'category', gridIndex:0, data:hours, boundaryGap:false,
      axisLine:{onZero:false, lineStyle:{color:'#000', width:2}}, axisTick:{show:false},
      axisLabel:{interval:3, rotate:90, margin:4, color:'#000', fontFamily:FONT, fontSize:10,
        formatter:(v, i) => dayLabels[i / 4] || ''},
      splitLine:{show:true, interval:3, lineStyle:{color:'#c0c0c0', width:1}}},
    {type:'value', gridIndex:1, show:false, min:0, max:1},
    {type:'value', gridIndex:2, show:false, min:0, max:1}
  ],
  yAxis:[
    {type:'value', gridIndex:0, show:false, min:-52.714, max:33.0},
    {type:'value', gridIndex:0, show:false, min:-7.714, max:78.0},
    {type:'value', gridIndex:0, show:false, min:-53.33, max:1946.67},
    {type:'value', gridIndex:1, position:'left', min:-45, max:30, interval:5,
      axisLine:{show:false}, axisTick:{show:false},
      axisLabel:{margin:17, color:'#000', fontFamily:FONT, fontSize:10},
      splitLine:{show:true, lineStyle:{color:'#c0c0c0', width:1}}},
    {type:'value', gridIndex:1, position:'right', min:0, max:75, interval:5,
      axisLine:{show:false}, axisTick:{show:false},
      axisLabel:{margin:16, color:'#000', fontFamily:FONT, fontSize:10},
      splitLine:{show:false}},
    {type:'value', gridIndex:2, min:-40, max:30, interval:10,
      axisLine:{show:false}, axisTick:{show:false}, axisLabel:{show:false},
      splitLine:{show:true, lineStyle:{color:'#c0c0c0', width:2}}}
  ],
  series,
  graphic
};
const chart = echarts.init(document.getElementById('c'), null, {renderer:'canvas'});
chart.setOption(option);
</script></body></html>
